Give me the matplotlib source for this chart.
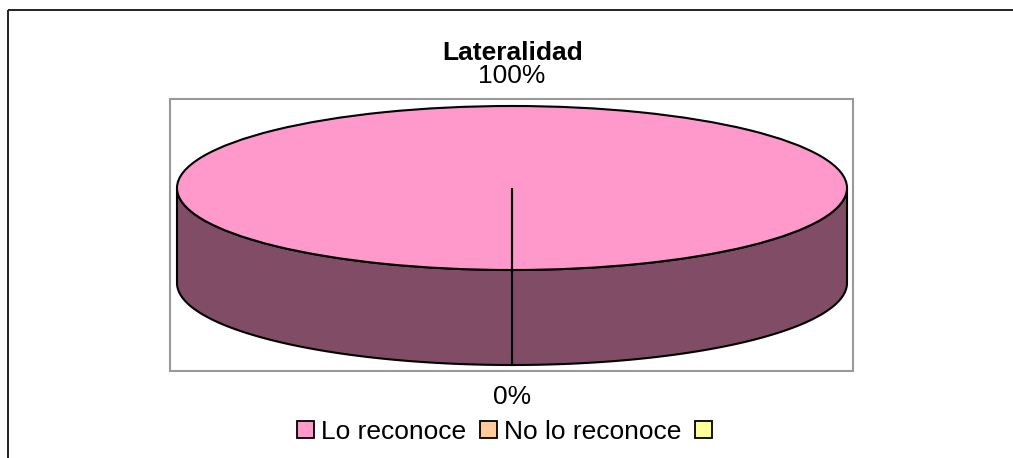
import numpy as np
import matplotlib
matplotlib.use('Agg')
import matplotlib.pyplot as plt
from matplotlib.patches import Rectangle, Polygon

plt.rcParams['font.family'] = ['Liberation Sans', 'DejaVu Sans']

# Data
title = 'Lateralidad'
categories = ['Lo reconoce', 'No lo reconoce', '']
values = [100, 0, 0]
top_colors = ['#FF99CC', '#FFCC99', '#FFFF99']
side_colors = ['#804C66', '#80664C', '#80804C']

W, H = 1013, 458
fig = plt.figure(figsize=(W / 100, H / 100), dpi=100)

# background axes in pixel units (frames + title)
bg = fig.add_axes([0, 0, 1, 1])
bg.set_xlim(0, W)
bg.set_ylim(H, 0)
bg.axis('off')
bg.add_patch(Rectangle((8, 10), 1100, 600, fill=False, edgecolor='#222222', lw=1.4))
bg.add_patch(Rectangle((170, 99), 683, 272, fill=False, edgecolor='#999999', lw=1.5))
bg.text(513, 60, title, ha='center', va='baseline', fontsize=19, fontweight='bold')

# pie axes: 1 unit x = 335 px, 1 unit y = 82 px, centre at (512, 188)
cx, cy, rx, ry = 512, 188, 335, 82
depth = 95 / ry
ax = fig.add_axes([0, 0, 1, 1])
ax.patch.set_alpha(0)

total = sum(values)
start = 270
angles = []
a = start
for v in values:
    angles.append((a, a + 360 * v / total))
    a += 360 * v / total

# side of the cylinder (front half only)
for (t1, t2), col in zip(angles, side_colors):
    for lo, hi in [(180, 360), (540, 720)]:
        s, e = max(t1, lo), min(t2, hi)
        if e - s <= 0:
            continue
        th = np.radians(np.linspace(s, e, 100))
        topx, topy = np.cos(th), np.sin(th)
        pts = np.vstack([np.column_stack([topx, topy]),
                         np.column_stack([topx[::-1], topy[::-1] - depth])])
        ax.add_patch(Polygon(pts, closed=True, facecolor=col, edgecolor='black',
                             lw=1.5, zorder=1))

ax.pie(values, colors=top_colors, startangle=start, counterclock=True,
       wedgeprops=dict(edgecolor='black', linewidth=1.5, zorder=2))
ax.set_aspect('auto')
ax.set_xlim((0 - cx) / rx, (W - cx) / rx)
ax.set_ylim((cy - H) / ry, cy / ry)
ax.axis('off')

# percentage labels outside each slice
for (t1, t2), v, name in zip(angles, values, categories):
    if not name:
        continue
    mid = np.radians((t1 + t2) / 2)
    x, y = np.cos(mid), np.sin(mid)
    if y >= 0:
        ty = y + 0.28
    else:
        ty = y - depth - 0.476
    ax.text(x, ty, f'{v / total:.0%}', ha='center', va='baseline', fontsize=19)

handles = [Rectangle((0, 0), 1, 1, facecolor=c, edgecolor='black', lw=1.3) for c in top_colors]
fig.legend(handles, categories, ncol=3, loc='center', bbox_to_anchor=(508 / W, 1 - 432 / H),
           frameon=False, fontsize=19, handlelength=0.64, handleheight=0.64,
           handletextpad=0.27, columnspacing=0.53, borderpad=0, borderaxespad=0)

fig.savefig('out.png', dpi=100)
